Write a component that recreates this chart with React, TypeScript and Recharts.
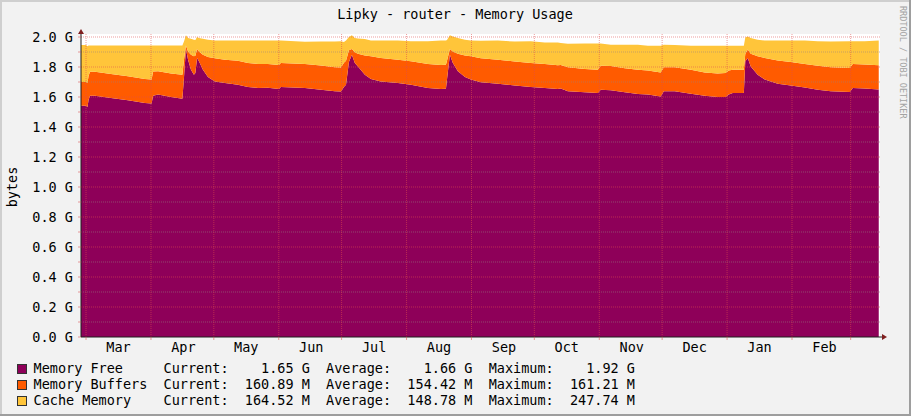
import React from 'react';
import { ComposedChart, Area, XAxis, YAxis, ReferenceLine, CartesianGrid } from 'recharts';

// ---- data (days after 1 Mar) ----
const dayOffsets = [
  -2.4, 0, 0.7, 1.2, 1.9, 4.3, 11.9, 20.0, 28.1, 31.3,
  32.0, 34.4, 40.6, 46.0, 46.8, 47.7, 48.7, 50.1, 51.5, 52.2,
  53.0, 53.9, 55.8, 58.2, 61.5, 66.3, 72.5, 77.3, 82.1, 86.8,
  92.1, 93.0, 104.5, 112.1, 118.8, 121.7, 123.1, 124.1, 125.5, 126.9,
  128.3, 129.8, 133.1, 136.0, 140.7, 148.9, 155.1, 163.2, 169.4, 171.8,
  172.3, 173.7, 175.1, 177.5, 180.9, 183.7, 188.5, 196.6, 204.7, 212.3,
  219.0, 225.2, 226.6, 230.0, 238.1, 244.3, 245.7, 250.5, 257.2, 263.4,
  268.2, 274.3, 275.8, 281.0, 288.7, 295.3, 301.5, 305.3, 306.8, 308.7,
  314.0, 314.7, 315.9, 317.3, 320.6, 324.0, 330.2, 336.4, 343.1, 349.3,
  355.5, 364.6, 366.0, 371.7, 378.4,
];

const memoryFreeG = [
  1.542, 1.542, 1.533, 1.580, 1.609, 1.609, 1.593, 1.578, 1.560, 1.556,
  1.609, 1.616, 1.600, 1.589, 1.738, 1.920, 1.849, 1.782, 1.749, 1.760,
  1.860, 1.838, 1.782, 1.733, 1.704, 1.693, 1.682, 1.667, 1.660, 1.662,
  1.653, 1.667, 1.660, 1.649, 1.638, 1.636, 1.667, 1.682, 1.833, 1.882,
  1.827, 1.804, 1.749, 1.720, 1.704, 1.693, 1.682, 1.660, 1.653, 1.655,
  1.716, 1.882, 1.827, 1.771, 1.733, 1.716, 1.698, 1.689, 1.676, 1.667,
  1.660, 1.653, 1.656, 1.638, 1.631, 1.627, 1.649, 1.645, 1.631, 1.620,
  1.616, 1.604, 1.638, 1.638, 1.622, 1.609, 1.600, 1.600, 1.616, 1.627,
  1.627, 1.838, 1.860, 1.804, 1.749, 1.716, 1.689, 1.676, 1.664, 1.649,
  1.638, 1.633, 1.660, 1.656, 1.650,
];

const memoryBuffersM = [
  158, 158, 161, 160, 160, 160, 160, 160, 160, 160,
  161, 155, 156, 160, 115, 24, 55, 100, 122, 115,
  60, 66, 100, 134, 154, 156, 160, 160, 160, 158,
  160, 160, 160, 161, 161, 160, 161, 160, 78, 38,
  71, 85, 127, 151, 156, 156, 156, 160, 160, 160,
  126, 38, 77, 118, 143, 155, 161, 160, 161, 160,
  160, 158, 157, 161, 156, 155, 160, 161, 160, 161,
  161, 160, 161, 160, 160, 155, 156, 160, 161, 155,
  155, 51, 56, 85, 122, 144, 155, 157, 156, 160,
  161, 160, 160, 160, 161,
];

const cacheMemoryM = [
  246, 246, 244, 204, 175, 175, 191, 206, 224, 228,
  173, 173, 188, 195, 118, 67, 89, 107, 111, 105,
  80, 89, 107, 115, 118, 127, 134, 149, 156, 156,
  163, 149, 149, 160, 171, 175, 138, 134, 89, 91,
  95, 101, 111, 105, 116, 127, 133, 151, 163, 161,
  138, 91, 100, 104, 106, 105, 116, 127, 133, 144,
  144, 153, 147, 156, 169, 174, 147, 142, 158, 167,
  164, 178, 149, 149, 160, 178, 186, 182, 164, 160,
  160, 107, 88, 104, 111, 116, 132, 143, 156, 162,
  171, 178, 151, 155, 165,
];

// ---- axes ----
const monthStartDays = [0, 31, 61, 92, 122, 153, 184, 214, 245, 275, 306, 337, 365];
const monthLabelDays = [15.5, 46.5, 76.5, 107.5, 137.5, 168.5, 199.5, 229.5, 260.5, 290.5, 321.5, 352.5];
const monthLabels = ['Mar', 'Apr', 'May', 'Jun', 'Jul', 'Aug', 'Sep', 'Oct', 'Nov', 'Dec', 'Jan', 'Feb'];

const yMajorTicks = [0, 0.2, 0.4, 0.6, 0.8, 1.0, 1.2, 1.4, 1.6, 1.8, 2.0];
const yMajorLabels = ['0.0 G', '0.2 G', '0.4 G', '0.6 G', '0.8 G', '1.0 G', '1.2 G', '1.4 G', '1.6 G', '1.8 G', '2.0 G'];
const yMinorTicks = [0.1, 0.3, 0.5, 0.7, 0.9, 1.1, 1.3, 1.5, 1.7, 1.9];

// ---- legend ----
const seriesNames = ['Memory Free', 'Memory Buffers', 'Cache Memory'];
const seriesColors = ['#8E0059', '#FF5B00', '#FFC53A'];
const currentValues = [1.65, 160.89, 164.52];
const averageValues = [1.66, 154.42, 148.78];
const maximumValues = [1.92, 161.21, 247.74];
const valueUnits = ['G', 'M', 'M'];

const FONT = "'DejaVu Sans Mono', monospace";
const MGRID = 'rgba(222,79,79,0.55)';
const GRID = 'rgba(150,130,130,0.55)';

const data = dayOffsets.map((day, i) => ({
  day,
  free: memoryFreeG[i],
  buffers: memoryBuffersM[i] / 1000,
  cache: cacheMemoryM[i] / 1000,
}));

const xTicks = [...monthStartDays, ...monthLabelDays].sort((a, b) => a - b);
const yTicks = [...yMajorTicks, ...yMinorTicks].sort((a, b) => a - b);

const XTick = (props: any) => {
  const { x, y, payload } = props;
  const idx = monthLabelDays.indexOf(payload.value);
  if (idx >= 0) {
    return (
      <text x={x} y={y + 14.7} textAnchor="middle" fontFamily={FONT} fontSize={13.5} fill="#000">
        {monthLabels[idx]}
      </text>
    );
  }
  return <line x1={x} x2={x} y1={y} y2={y + 3} stroke={MGRID} />;
};

const YTick = (props: any) => {
  const { x, y, payload } = props;
  const idx = yMajorTicks.indexOf(payload.value);
  if (idx < 0) return <g />;
  return (
    <text x={x} y={y} dy={4.8} textAnchor="end" fontFamily={FONT} fontSize={13.5} fill="#000">
      {yMajorLabels[idx]}
    </text>
  );
};

const fmt = (v: number, unit: string) => v.toFixed(2).padStart(8, ' ') + ' ' + unit;
const legendLine = (i: number) =>
  seriesNames[i].padEnd(16, ' ') +
  'Current:' + fmt(currentValues[i], valueUnits[i]) +
  '  Average:' + fmt(averageValues[i], valueUnits[i]) +
  '  Maximum:' + fmt(maximumValues[i], valueUnits[i]);

export default function App() {
  return (
    <div style={{ position: 'absolute', left: 0, top: 0, width: 911, height: 416, background: '#F2F2F2', overflow: 'hidden' }}>
      <ComposedChart
        width={911}
        height={416}
        data={data}
        margin={{ top: 34, right: 31, bottom: 49, left: 0 }}
      >
        <CartesianGrid horizontal={false} vertical={false} fill="#FFFFFF" />
        <XAxis
          dataKey="day"
          type="number"
          domain={[-2.4, 379]}
          allowDataOverflow
          ticks={xTicks}
          interval={0}
          tickLine={false}
          tickSize={0}
          tickMargin={0}
          height={30}
          axisLine={{ stroke: '#1F1F1F' }}
          tick={<XTick />}
        />
        <YAxis
          type="number"
          domain={[0, 2.02]}
          allowDataOverflow
          ticks={yTicks}
          interval={0}
          width={81}
          tickSize={3}
          tickMargin={5}
          tickLine={{ stroke: MGRID }}
          axisLine={{ stroke: '#1F1F1F' }}
          tick={<YTick />}
        />
        <Area dataKey="free" stackId="mem" type="linear" fill={seriesColors[0]} fillOpacity={1} stroke="none" isAnimationActive={false} dot={false} activeDot={false} />
        <Area dataKey="buffers" stackId="mem" type="linear" fill={seriesColors[1]} fillOpacity={1} stroke="none" isAnimationActive={false} dot={false} activeDot={false} />
        <Area dataKey="cache" stackId="mem" type="linear" fill={seriesColors[2]} fillOpacity={1} stroke="none" isAnimationActive={false} dot={false} activeDot={false} />
        {yMinorTicks.map((v) => (
          <ReferenceLine key={'mi' + v} y={v} stroke={GRID} strokeDasharray="1 1" />
        ))}
        {yMajorTicks.filter((v) => v > 0).map((v) => (
          <ReferenceLine key={'ma' + v} y={v} stroke={MGRID} strokeDasharray="1 1" />
        ))}
        {monthStartDays.map((d) => (
          <ReferenceLine key={'m' + d} x={d} stroke={MGRID} strokeDasharray="1 1" />
        ))}
      </ComposedChart>
      <svg width={911} height={416} style={{ position: 'absolute', left: 0, top: 0, pointerEvents: 'none' }}>
        <rect x={0} y={0} width={911} height={2} fill="#CFCFCF" />
        <rect x={0} y={0} width={2} height={416} fill="#CFCFCF" />
        <rect x={0} y={414} width={911} height={2} fill="#9E9E9E" />
        <rect x={909} y={0} width={2} height={416} fill="#9E9E9E" />
        <text x={455} y={19} textAnchor="middle" fontFamily={FONT} fontSize={13.5} fill="#000">
          Lipky - router - Memory Usage
        </text>
        <text transform="translate(12,187) rotate(-90)" textAnchor="middle" dominantBaseline="central" fontFamily={FONT} fontSize={13.5} fill="#000">
          bytes
        </text>
        <text transform="translate(899.5,6) rotate(90)" textAnchor="start" fontFamily={FONT} fontSize={8.5} fill="#A3A3A3">
          RRDTOOL / TOBI OETIKER
        </text>
        <polygon points="81,29 78,34 84,34" fill="#801F1F" />
        <line x1={880} x2={882} y1={337} y2={337} stroke="#1F1F1F" />
        <polygon points="887,337 882,334 882,340" fill="#801F1F" />
        {seriesNames.map((n, i) => (
          <g key={n}>
            <rect x={17.5} y={364.5 + i * 16} width={9} height={9} fill={seriesColors[i]} stroke="#333" strokeWidth={1} />
            <text x={33.5} y={373.3 + i * 16} fontFamily={FONT} fontSize={13.5} fill="#000" xmlSpace="preserve" style={{ whiteSpace: 'pre' }}>
              {legendLine(i)}
            </text>
          </g>
        ))}
      </svg>
    </div>
  );
}
